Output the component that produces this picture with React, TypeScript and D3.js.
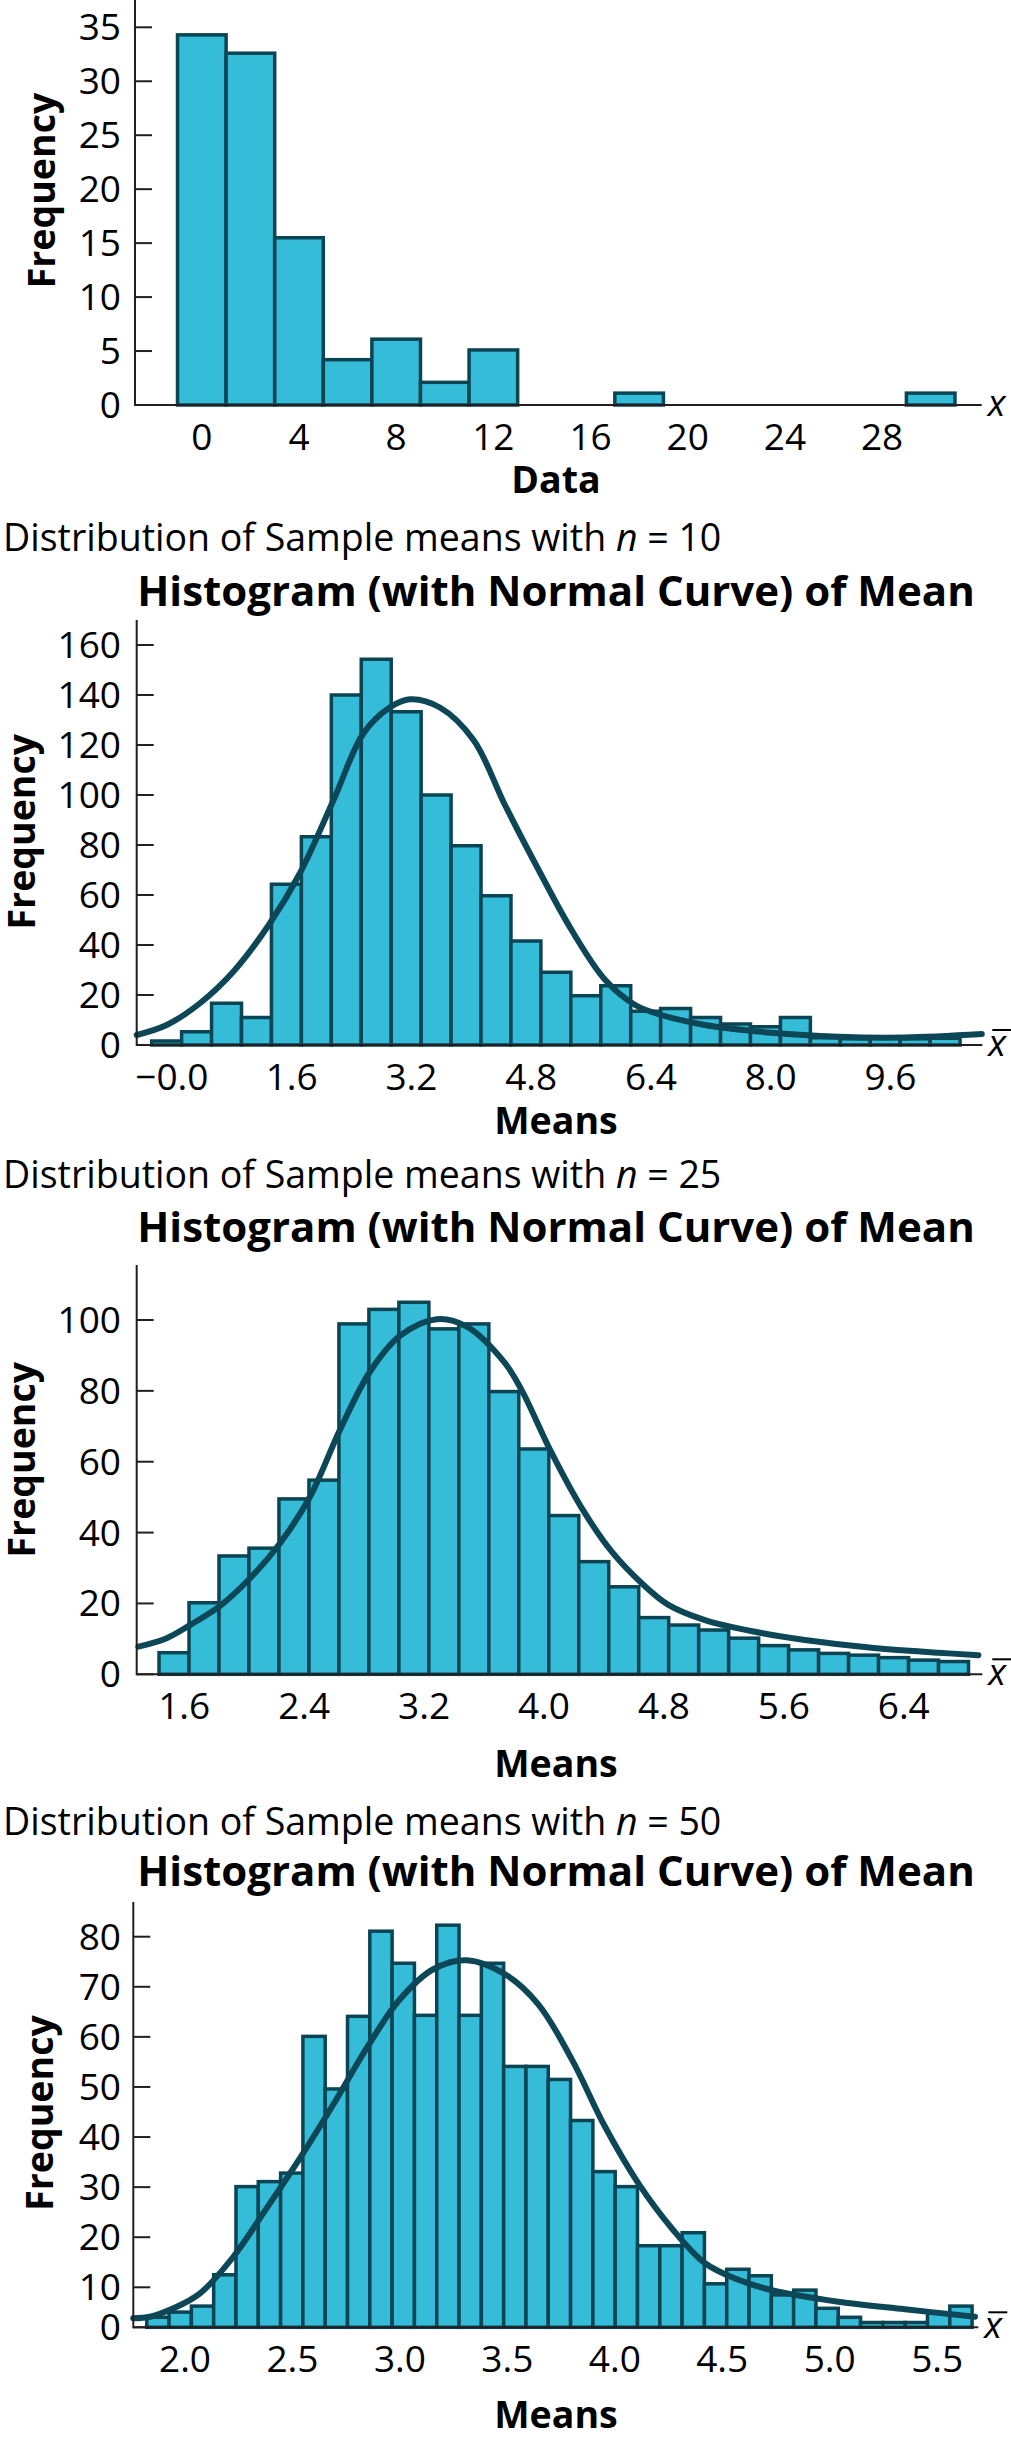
import React, { useEffect } from 'react';
import * as d3 from 'd3';

const FONT = "'Open Sans', 'Noto Sans', sans-serif";
const BAR_FILL = '#35BCD8';
const BAR_STROKE = '#0B4554';
const CURVE_COLOR = '#0D4656';
const AXIS_COLOR = '#231F20';

// ---------- Panel 1: original data ----------
const dataFreq = [34.3, 32.6, 15.5, 4.2, 6.1, 2.1, 5.1, 0, 0, 1.1, 0, 0, 0, 0, 0, 1.1];
const dataBinStart = -1;
const dataBinWidth = 2;
const dataXTicks = [0, 4, 8, 12, 16, 20, 24, 28];
const dataXTickLabels = ['0', '4', '8', '12', '16', '20', '24', '28'];
const dataYTicks = [0, 5, 10, 15, 20, 25, 30, 35];

// ---------- Panel 2: n = 10 ----------
const n10Freq = [1.6, 5.3, 16.7, 11, 64.3, 83.3, 140, 154.3, 133.3, 100, 79.7, 59.7, 41.6, 29.1, 19.7, 23.7, 13.5, 14.6, 11, 8.4, 7.3, 11, 2.9, 2.5, 2.7, 2.5, 2.7];
const n10BinStart = -0.27;
const n10BinWidth = 0.4;
const n10CurveX = [-0.47, -0.07, 0.375, 0.82, 1.31, 1.71, 2.16, 2.56, 2.91, 3.18, 3.58, 4.03, 4.45, 4.9, 5.34, 5.79, 6.19, 6.54, 7.12, 8.01, 8.9, 9.79, 10.82];
const n10CurveY = [4, 8, 16.7, 29.3, 48.7, 68.7, 98, 124.7, 135, 138.3, 135, 122, 96, 70, 46, 26, 16, 12, 8, 4.9, 3.3, 3, 4.4];
const n10XTicks = [0, 1.6, 3.2, 4.8, 6.4, 8.0, 9.6];
const n10XTickLabels = ['\u22120.0', '1.6', '3.2', '4.8', '6.4', '8.0', '9.6'];
const n10YTicks = [0, 20, 40, 60, 80, 100, 120, 140, 160];

// ---------- Panel 3: n = 25 ----------
const n25Freq = [6.1, 20.2, 33.4, 35.6, 49.5, 54.8, 98.9, 103, 105, 97.5, 98.9, 79.8, 63.6, 44.8, 31.8, 24.7, 16, 13.9, 12.5, 10.2, 8.1, 6.9, 5.9, 5.4, 4.7, 4, 3.6];
const n25BinStart = 1.432;
const n25BinWidth = 0.2;
const n25CurveX = [1.294, 1.483, 1.639, 1.839, 2.039, 2.239, 2.439, 2.639, 2.839, 3.039, 3.284, 3.485, 3.74, 3.851, 4.052, 4.252, 4.452, 4.652, 4.83, 5.074, 5.408, 5.741, 6.186, 6.631, 6.898];
const n25CurveY = [7.8, 10.2, 13.9, 19.3, 27.1, 37, 50.1, 69, 85.4, 95.5, 100.2, 98.1, 87.8, 80.2, 62.4, 46.9, 34.6, 25.7, 19.6, 15.3, 12, 9.7, 7.5, 6.1, 5.4];
const n25XTicks = [1.6, 2.4, 3.2, 4.0, 4.8, 5.6, 6.4];
const n25XTickLabels = ['1.6', '2.4', '3.2', '4.0', '4.8', '5.6', '6.4'];
const n25YTicks = [0, 20, 40, 60, 80, 100];

// ---------- Panel 4: n = 50 ----------
const n50Freq = [2.5, 3.8, 5.3, 12.5, 30.1, 31.1, 32.8, 60.1, 49.6, 64.1, 81.1, 74.7, 64.3, 82.3, 64.3, 74.7, 54.1, 54.1, 51.5, 43.3, 33.1, 30.1, 18.3, 18.3, 20.9, 10.7, 13.6, 12.3, 8.1, 9.3, 4.75, 2.5, 1.2, 1.2, 1.2, 3.5, 5.3];
const n50BinStart = 1.822;
const n50BinWidth = 0.1038;
const n50CurveX = [1.759, 1.837, 1.946, 2.07, 2.225, 2.38, 2.535, 2.69, 2.846, 3.0, 3.155, 3.311, 3.489, 3.644, 3.8, 3.954, 4.109, 4.265, 4.42, 4.575, 4.73, 5.04, 5.35, 5.676];
const n50CurveY = [2.25, 2.65, 4.75, 8.5, 16.1, 25.8, 35.8, 46.5, 57.8, 67.5, 73.5, 75.3, 72.5, 66.5, 55.5, 42.1, 30.8, 21.8, 14.8, 11.5, 9.3, 6.4, 4.5, 2.65];
const n50XTicks = [2.0, 2.5, 3.0, 3.5, 4.0, 4.5, 5.0, 5.5];
const n50XTickLabels = ['2.0', '2.5', '3.0', '3.5', '4.0', '4.5', '5.0', '5.5'];
const n50YTicks = [0, 10, 20, 30, 40, 50, 60, 70, 80];

type PanelProps = {
  freq: number[];
  binStart: number;
  binWidth: number;
  curveX?: number[];
  curveY?: number[];
  xTicks: number[];
  xTickLabels: string[];
  yTicks: number[];
  xDomain: [number, number];
  xRange: [number, number];
  yDomain: number[];
  yRange: number[];
  axisTop: number;
  xLabel: string;
  xLabelY: number;
  yLabelX: number;
  yLabelY: number;
  bar: boolean;
  nValue?: number;
  subtitleY?: number;
  titleY?: number;
};

function Panel(p: PanelProps) {
  const x = d3.scaleLinear().domain(p.xDomain).range(p.xRange);
  const y = d3.scaleLinear().domain(p.yDomain).range(p.yRange);
  const base = y(0);
  const axisX = p.xRange[0];
  const bars = p.freq
    .map((f, i) => ({ a: p.binStart + i * p.binWidth, b: p.binStart + (i + 1) * p.binWidth, f }))
    .filter((d) => d.f > 0);
  let curvePath: string | null = null;
  if (p.curveX && p.curveY) {
    const pts: [number, number][] = p.curveX.map((v, i) => [v, p.curveY![i]]);
    curvePath = d3
      .line<[number, number]>()
      .x((d) => x(d[0]))
      .y((d) => y(d[1]))
      .curve(d3.curveCatmullRom.alpha(0.5))(pts);
  }
  const symX = p.xRange[1] + 6;
  return (
    <g>
      {p.nValue !== undefined && (
        <text x={3} y={p.subtitleY} fontFamily={FONT} fontSize={37.5} fill="#000">
          {'Distribution of Sample means with '}
          <tspan fontStyle="italic">n</tspan>
          {' = ' + p.nValue}
        </text>
      )}
      {p.titleY !== undefined && (
        <text x={556} y={p.titleY} textAnchor="middle" fontFamily={FONT} fontWeight="bold" fontSize={42} fill="#000">
          Histogram (with Normal Curve) of Mean
        </text>
      )}
      {bars.map((d, i) => (
        <rect
          key={i}
          x={x(d.a)}
          y={y(d.f)}
          width={x(d.b) - x(d.a)}
          height={base - y(d.f)}
          fill={BAR_FILL}
          stroke={BAR_STROKE}
          strokeWidth={3.5}
        />
      ))}
      {curvePath && <path d={curvePath} fill="none" stroke={CURVE_COLOR} strokeWidth={6} strokeLinecap="round" />}
      <line x1={axisX} x2={axisX} y1={p.axisTop} y2={base + 1} stroke={AXIS_COLOR} strokeWidth={2} />
      <line x1={axisX} x2={p.xRange[1]} y1={base} y2={base} stroke={AXIS_COLOR} strokeWidth={2} />
      {p.yTicks.map((t) => (
        <g key={'y' + t}>
          <line x1={axisX} x2={axisX + 17} y1={y(t)} y2={y(t)} stroke={AXIS_COLOR} strokeWidth={2} />
          <text x={121} y={y(t)} dy="0.35em" textAnchor="end" fontFamily={FONT} fontSize={37} fill="#000">
            {t}
          </text>
        </g>
      ))}
      {p.xTicks.map((t, i) => (
        <text key={'x' + t} x={x(t)} y={base + 45} textAnchor="middle" fontFamily={FONT} fontSize={37} fill="#000">
          {p.xTickLabels[i]}
        </text>
      ))}
      <text x={556} y={p.xLabelY} textAnchor="middle" fontFamily={FONT} fontWeight="bold" fontSize={37.5} fill="#000">
        {p.xLabel}
      </text>
      <text
        transform={`translate(${p.yLabelX},${p.yLabelY}) rotate(-90)`}
        textAnchor="middle"
        fontFamily={FONT}
        fontWeight="bold"
        fontSize={37.5}
        fill="#000"
      >
        Frequency
      </text>
      <text x={symX} y={base + 11} fontFamily={FONT} fontStyle="italic" fontSize={37} fill="#000">
        x
      </text>
      {p.bar && <line x1={symX + 4} x2={symX + 23} y1={base - 15} y2={base - 15} stroke="#000" strokeWidth={2} />}
    </g>
  );
}

export default function App() {
  useEffect(() => {
    document.body.style.margin = '0';
  }, []);
  return (
    <svg
      width={1011}
      height={2440}
      viewBox="0 0 1011 2440"
      style={{ position: 'absolute', left: 0, top: 0, display: 'block', background: '#fff' }}
    >
      <rect x={0} y={0} width={1011} height={2440} fill="#fff" />
      <Panel
        freq={dataFreq}
        binStart={dataBinStart}
        binWidth={dataBinWidth}
        xTicks={dataXTicks}
        xTickLabels={dataXTickLabels}
        yTicks={dataYTicks}
        xDomain={[-2.75, 32.1]}
        xRange={[135, 981.7]}
        yDomain={[0, 35]}
        yRange={[405, 27.3]}
        axisTop={0}
        xLabel="Data"
        xLabelY={493}
        yLabelX={55}
        yLabelY={190.5}
        bar={false}
      />
      <Panel
        nValue={10}
        subtitleY={551}
        titleY={605.5}
        freq={n10Freq}
        binStart={n10BinStart}
        binWidth={n10BinWidth}
        curveX={n10CurveX}
        curveY={n10CurveY}
        xTicks={n10XTicks}
        xTickLabels={n10XTickLabels}
        yTicks={n10YTicks}
        xDomain={[-0.47, 10.827]}
        xRange={[136.7, 982.3]}
        yDomain={[0, 160]}
        yRange={[1045, 645]}
        axisTop={620}
        xLabel="Means"
        xLabelY={1134}
        yLabelX={35}
        yLabelY={831.7}
        bar={true}
      />
      <Panel
        nValue={25}
        subtitleY={1188}
        titleY={1242}
        freq={n25Freq}
        binStart={n25BinStart}
        binWidth={n25BinWidth}
        curveX={n25CurveX}
        curveY={n25CurveY}
        xTicks={n25XTicks}
        xTickLabels={n25XTickLabels}
        yTicks={n25YTicks}
        xDomain={[1.283, 6.924]}
        xRange={[136.7, 982.3]}
        yDomain={[0, 100]}
        yRange={[1674.3, 1320]}
        axisTop={1265}
        xLabel="Means"
        xLabelY={1777}
        yLabelX={35}
        yLabelY={1459.7}
        bar={true}
      />
      <Panel
        nValue={50}
        subtitleY={1835}
        titleY={1886}
        freq={n50Freq}
        binStart={n50BinStart}
        binWidth={n50BinWidth}
        curveX={n50CurveX}
        curveY={n50CurveY}
        xTicks={n50XTicks}
        xTickLabels={n50XTickLabels}
        yTicks={n50YTicks}
        xDomain={[1.7594, 5.6915]}
        xRange={[133.3, 978.3]}
        yDomain={[0, 10, 80]}
        yRange={[2327.3, 2287.3, 1936.7]}
        axisTop={1902}
        xLabel="Means"
        xLabelY={2428}
        yLabelX={53.3}
        yLabelY={2113}
        bar={true}
      />
    </svg>
  );
}
